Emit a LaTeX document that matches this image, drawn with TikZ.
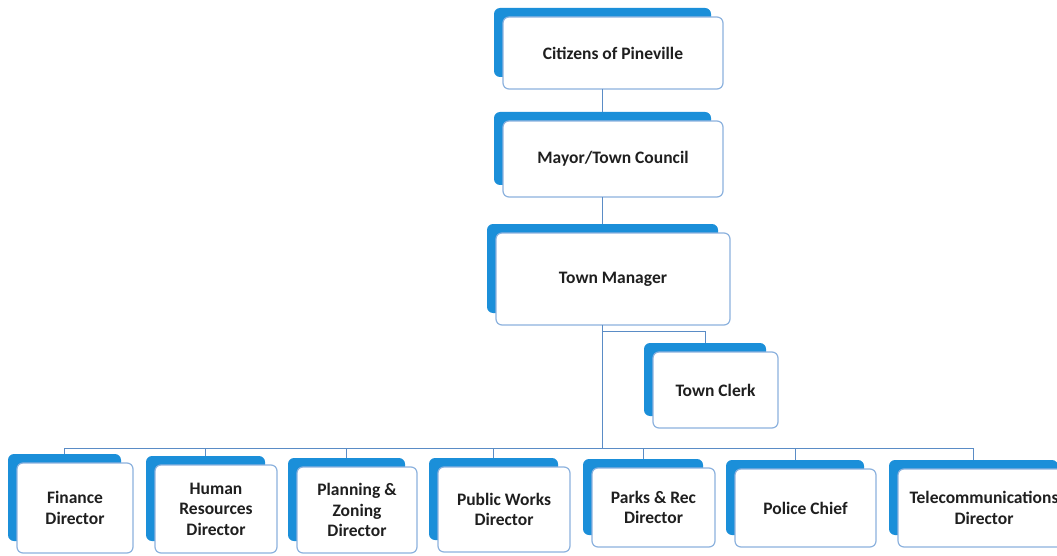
\documentclass[tikz,border=0pt]{standalone}
\usepackage{fontspec}
\setmainfont{Carlito}
\definecolor{backblue}{HTML}{1B8FD9}
\definecolor{edgeblue}{HTML}{8CB2DE}
\definecolor{lineblue}{HTML}{5A8CC6}
\tikzset{
  backbox/.style={fill=backblue, rounded corners=6pt, inner sep=0pt, outer sep=0pt},
  frontbox/.style={fill=white, draw=edgeblue, line width=1.2pt, rounded corners=6pt, inner sep=0pt, outer sep=0pt,
     align=center, font=\fontsize{17.5}{20.5}\selectfont\bfseries, text=black!88},
  conn/.style={draw=lineblue, line width=1pt}
}
\newcommand\orgbox[6]{%
  \node[backbox, minimum width={(#4-#2-3)*1pt}, minimum height={(#5-#3-3)*1pt}]
     (#1b) at ({(#2+#4-21)/2},{(#3+#5-21)/2}) {};
  \node[frontbox, minimum width={(#4-#2)*1pt}, minimum height={(#5-#3)*1pt}]
     (#1) at ({(#2+#4)/2},{(#3+#5)/2}) {#6};
}
\begin{document}
\begin{tikzpicture}[x=1pt,y=-1pt]
\useasboundingbox (0,0) rectangle (1057,556);
\fill[white] (0,0) rectangle (1057,556);
\coordinate (bus) at (0,448);
\coordinate (cbr) at (0,331);
\orgbox{cit}{503}{17}{723}{89}{Citizens of Pineville}
\orgbox{may}{503}{121}{723}{197}{Mayor/Town Council}
\orgbox{mgr}{496}{233}{730}{325}{Town Manager}
\orgbox{clk}{653}{352}{778}{428}{Town Clerk}
\orgbox{fin}{17}{463}{133}{553}{Finance\\Director}
\orgbox{hr}{155}{465}{277}{553}{Human\\Resources\\Director}
\orgbox{pz}{297}{467}{417}{553}{Planning \&\\Zoning\\Director}
\orgbox{pw}{438}{467}{570}{552}{Public Works\\Director}
\orgbox{pr}{592}{468}{715}{547}{Parks \& Rec\\Director}
\orgbox{pc}{735}{469}{876}{547}{Police Chief}
\orgbox{tel}{898}{469}{1070}{547}{Telecommunications\\Director}
\draw[conn] (citb.center |- cit.south) -- (mayb.north);
\draw[conn] (mayb.center |- may.south) -- (mgrb.north);
\draw[conn] (mgrb.center |- mgr.south) -- (mgrb.center |- bus);
\draw[conn] (mgrb.center |- cbr) -| (clkb.north);
\draw[conn] (finb.north |- bus) -- (telb.north |- bus);
\foreach \n in {fin,hr,pz,pw,pr,pc,tel}
  \draw[conn] (\n b.north |- bus) -- (\n b.north);
\end{tikzpicture}
\end{document}
